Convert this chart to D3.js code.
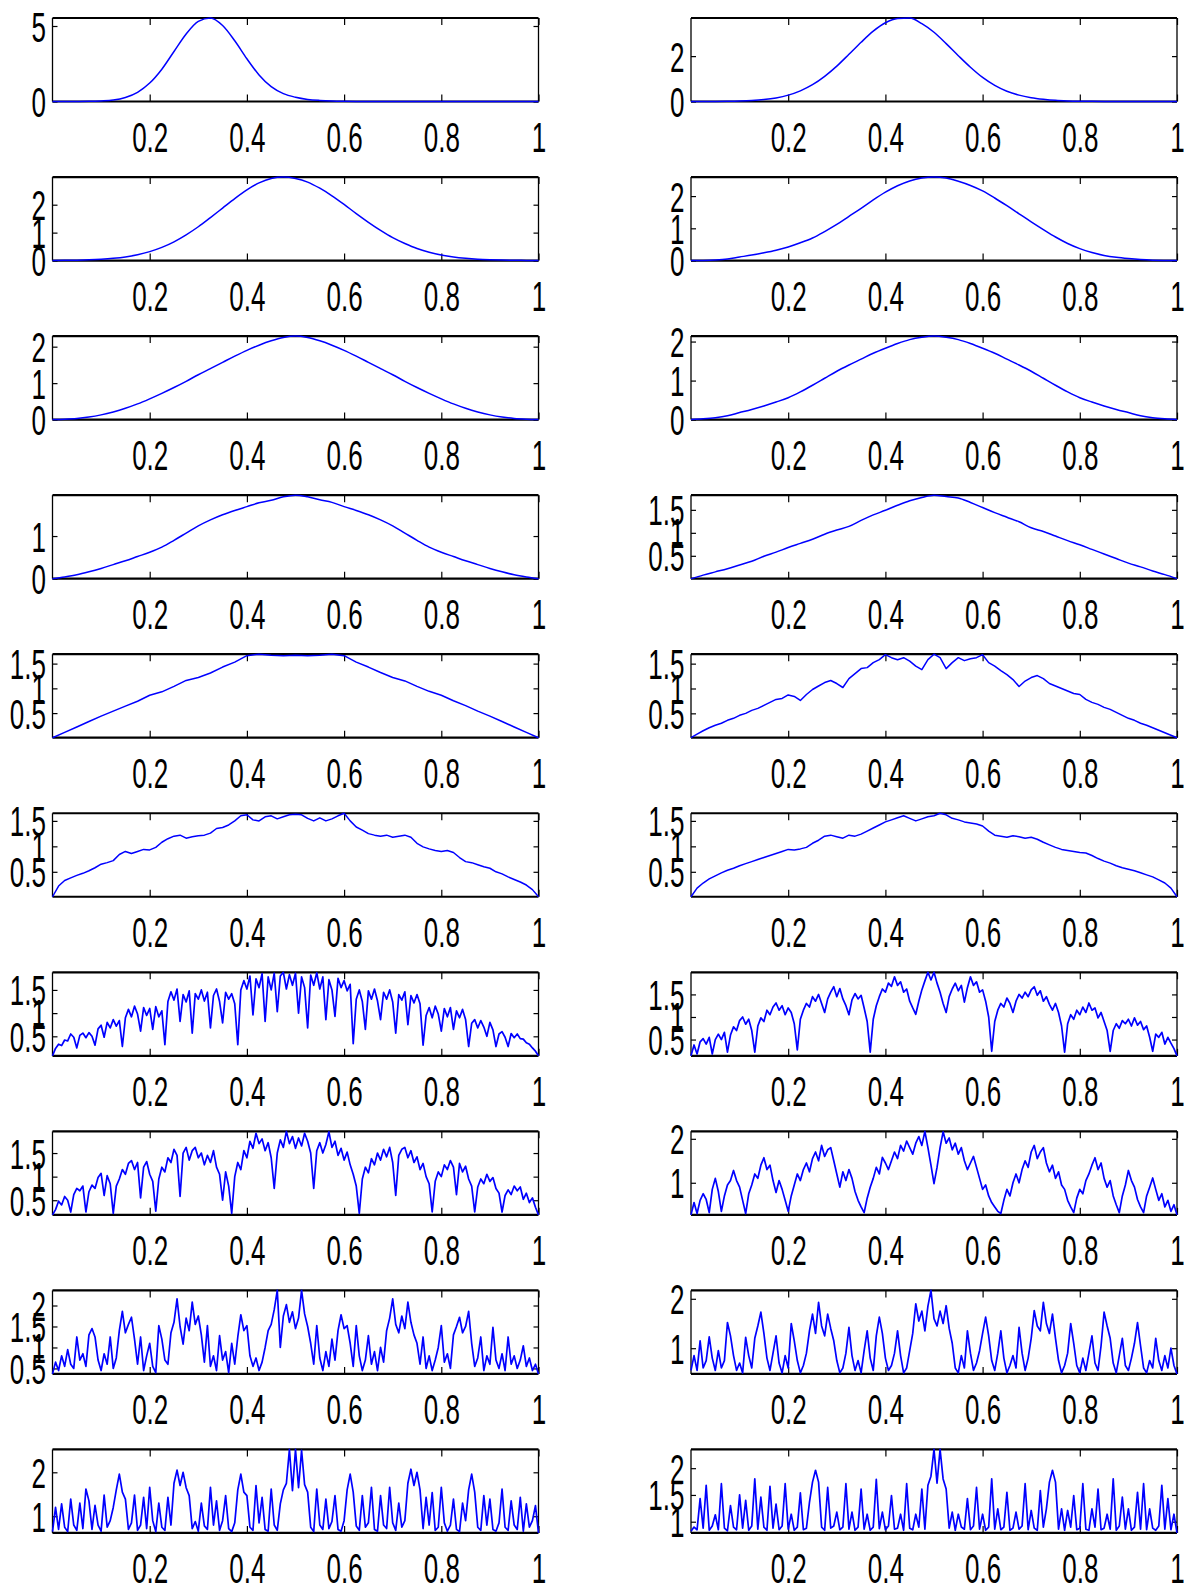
<!DOCTYPE html>
<html><head><meta charset="utf-8">
<script src="https://cdn.jsdelivr.net/npm/d3@7"></script>
<style>body{margin:0;background:#fff}</style>
</head><body>
<script>
// ---- data (x spans [0,1] evenly) ----
const xTickValues = [0.2, 0.4, 0.6, 0.8, 1];
const p01 = [0,0,0.003,0.01,0.04,0.10,0.27,0.61,1.22,2.14,3.31,4.47,5.30,5.53,5.03,4.02,2.83,1.76,0.98,0.52,0.28,0.14,0.07,0.03,0.012,0.004,0.001,0,0,0,0,0,0,0,0,0,0,0,0,0,0];
const p02 = [0,0.001,0.004,0.009,0.02,0.042,0.084,0.158,0.28,0.47,0.74,1.11,1.56,2.08,2.61,3.10,3.47,3.66,3.68,3.43,3.05,2.55,2.02,1.51,1.06,0.71,0.45,0.28,0.17,0.1,0.05,0.025,0.012,0.006,0.003,0.001,0,0,0,0,0];
const p03 = [0,0.007,0.014,0.026,0.047,0.08,0.13,0.21,0.32,0.47,0.67,0.92,1.21,1.54,1.88,2.22,2.53,2.78,2.94,2.99,2.94,2.81,2.59,2.32,2.01,1.68,1.37,1.08,0.82,0.61,0.43,0.30,0.20,0.13,0.083,0.05,0.03,0.017,0.009,0.005,0];
const p04 = [0,0.005,0.02,0.05,0.11,0.17,0.24,0.32,0.42,0.55,0.70,0.90,1.12,1.37,1.62,1.88,2.12,2.32,2.47,2.56,2.59,2.56,2.46,2.33,2.16,1.94,1.70,1.45,1.20,0.96,0.73,0.53,0.37,0.25,0.16,0.10,0.06,0.03,0.012,0.004,0];
const p05 = [0,0.01,0.03,0.07,0.13,0.21,0.31,0.43,0.57,0.72,0.88,1.05,1.23,1.40,1.57,1.74,1.90,2.04,2.16,2.25,2.29,2.25,2.16,2.04,1.90,1.74,1.57,1.40,1.23,1.05,0.88,0.72,0.57,0.43,0.31,0.21,0.13,0.07,0.03,0.01,0];
const p06 = [0,0.02,0.05,0.10,0.18,0.26,0.35,0.45,0.56,0.71,0.88,1.06,1.24,1.40,1.55,1.70,1.83,1.95,2.05,2.11,2.14,2.11,2.05,1.95,1.83,1.70,1.55,1.40,1.24,1.06,0.88,0.71,0.56,0.45,0.35,0.26,0.18,0.10,0.05,0.02,0];
const p07 = [0,0.04,0.09,0.16,0.24,0.33,0.42,0.52,0.62,0.74,0.90,1.07,1.24,1.38,1.50,1.60,1.69,1.78,1.84,1.92,1.96,1.92,1.85,1.79,1.69,1.60,1.50,1.38,1.24,1.07,0.90,0.74,0.62,0.52,0.42,0.33,0.24,0.16,0.09,0.04,0];
const p08 = [0.003,0.08,0.15,0.22,0.30,0.38,0.49,0.58,0.68,0.77,0.86,0.97,1.06,1.14,1.27,1.39,1.49,1.60,1.70,1.77,1.82,1.79,1.76,1.66,1.55,1.44,1.34,1.24,1.11,1.03,0.93,0.83,0.74,0.64,0.54,0.44,0.34,0.26,0.17,0.09,0.003];
const p09 = [0.003,0.11,0.22,0.33,0.44,0.54,0.64,0.74,0.86,0.93,1.04,1.16,1.22,1.31,1.43,1.53,1.66,1.69,1.67,1.66,1.67,1.66,1.67,1.69,1.66,1.53,1.43,1.32,1.22,1.15,1.04,0.94,0.86,0.75,0.65,0.54,0.44,0.33,0.22,0.11,0.003];
const p10 = [0.01,0.08,0.15,0.21,0.26,0.30,0.36,0.40,0.46,0.50,0.56,0.60,0.66,0.72,0.78,0.80,0.87,0.84,0.76,0.88,0.98,1.05,1.12,1.16,1.10,1.02,1.20,1.30,1.40,1.42,1.52,1.58,1.68,1.62,1.58,1.62,1.55,1.45,1.38,1.58,1.69,1.62,1.40,1.52,1.62,1.56,1.60,1.62,1.68,1.52,1.45,1.36,1.28,1.18,1.04,1.15,1.22,1.26,1.20,1.10,1.05,1.00,0.95,0.90,0.88,0.78,0.72,0.68,0.62,0.58,0.52,0.46,0.40,0.36,0.30,0.26,0.21,0.16,0.11,0.06,0.01];
const p11 = [0.01,0.22,0.33,0.38,0.43,0.47,0.52,0.58,0.65,0.68,0.72,0.84,0.90,0.86,0.90,0.94,0.93,0.98,1.08,1.15,1.20,1.22,1.16,1.19,1.21,1.22,1.26,1.35,1.37,1.42,1.50,1.60,1.62,1.52,1.50,1.58,1.60,1.54,1.58,1.62,1.63,1.62,1.55,1.50,1.56,1.50,1.54,1.60,1.65,1.50,1.38,1.32,1.25,1.22,1.20,1.22,1.18,1.20,1.22,1.18,1.06,0.99,0.95,0.92,0.90,0.92,0.88,0.78,0.70,0.68,0.64,0.60,0.57,0.50,0.46,0.40,0.35,0.30,0.24,0.15,0.01];
const p12 = [0.01,0.18,0.28,0.36,0.42,0.48,0.53,0.57,0.62,0.66,0.70,0.74,0.78,0.82,0.86,0.90,0.94,0.93,0.95,0.98,1.06,1.12,1.20,1.22,1.19,1.16,1.22,1.20,1.24,1.30,1.36,1.42,1.48,1.52,1.56,1.60,1.55,1.50,1.54,1.58,1.60,1.65,1.62,1.55,1.52,1.48,1.46,1.44,1.40,1.30,1.22,1.20,1.18,1.21,1.19,1.16,1.18,1.14,1.08,1.03,0.98,0.94,0.92,0.90,0.88,0.87,0.82,0.76,0.71,0.67,0.62,0.58,0.55,0.52,0.48,0.44,0.40,0.34,0.28,0.18,0.01];
const p13 = [0.08,0.24,0.33,0.30,0.42,0.40,0.55,0.48,0.25,0.52,0.57,0.47,0.58,0.50,0.31,0.66,0.74,0.48,0.80,0.68,0.86,0.72,0.84,0.28,0.90,1.08,0.92,1.15,0.98,0.61,1.12,0.95,1.10,0.65,1.14,0.92,1.05,0.32,1.25,1.46,1.28,1.52,0.82,1.40,1.24,1.48,0.57,1.42,1.30,1.50,1.26,1.45,0.68,1.38,1.52,1.25,0.79,1.45,1.30,1.42,1.20,0.32,1.50,1.70,1.52,1.80,0.96,1.74,1.55,1.85,0.82,1.78,1.50,1.86,1.03,1.80,1.88,1.52,1.83,1.60,1.86,1.00,1.78,1.55,0.68,1.82,1.60,1.87,1.52,1.78,0.86,1.72,1.50,0.93,1.75,1.55,1.70,1.48,1.62,0.34,1.30,1.50,1.25,0.65,1.48,1.30,1.52,1.26,0.86,1.45,1.30,1.50,1.24,0.57,1.40,1.28,1.46,0.75,1.38,1.22,1.40,1.20,0.31,0.95,1.12,0.90,1.15,0.98,0.61,1.10,0.92,1.12,0.65,1.05,0.90,1.08,0.86,0.28,0.78,0.86,0.68,0.84,0.70,0.50,0.80,0.64,0.28,0.55,0.60,0.48,0.28,0.56,0.47,0.55,0.45,0.44,0.36,0.33,0.25,0.18,0.08];
const p14 = [0.14,0.38,0.18,0.45,0.52,0.40,0.55,0.18,0.50,0.62,0.50,0.66,0.22,0.60,0.78,0.70,0.92,1.00,0.84,0.95,0.70,0.22,0.80,0.98,0.90,1.15,1.05,1.22,1.31,1.15,1.25,1.05,1.20,1.10,0.85,0.27,0.95,1.15,1.30,1.22,1.45,1.35,1.50,1.30,1.10,1.40,1.55,1.67,1.45,1.63,1.40,1.25,1.05,1.38,1.52,1.40,1.48,1.20,0.90,0.22,0.95,1.25,1.45,1.62,1.55,1.75,1.68,1.89,1.70,1.78,1.55,1.62,1.35,1.20,1.06,1.35,1.60,1.80,1.99,1.82,1.99,1.75,1.55,1.30,1.10,1.45,1.62,1.75,1.58,1.70,1.33,1.65,1.89,1.70,1.78,1.55,1.60,1.35,1.00,0.24,0.90,1.15,1.30,1.22,1.42,1.30,1.10,1.35,1.50,1.42,1.55,1.45,1.60,1.67,1.48,1.58,1.35,1.45,1.28,1.15,1.30,1.10,0.80,0.22,0.85,1.05,0.95,1.15,1.05,1.22,1.10,1.31,1.15,1.20,0.98,1.10,0.90,0.70,0.24,0.70,0.85,0.75,0.92,0.85,0.95,0.80,0.98,0.82,0.90,0.72,0.80,0.55,0.24,0.62,0.55,0.66,0.40,0.55,0.42,0.30,0.14];
const p15 = [0.19,0.30,0.48,0.40,0.58,0.50,0.25,0.62,0.75,0.70,0.80,0.25,0.68,0.82,0.75,0.98,1.07,0.60,1.02,0.85,0.22,0.80,0.95,1.15,1.05,1.28,1.34,1.15,1.30,0.55,1.20,1.32,1.05,0.90,0.27,0.95,1.20,1.10,1.40,1.30,1.58,1.45,0.58,1.50,1.62,1.35,1.55,1.62,1.40,1.50,1.25,1.45,1.30,1.55,1.20,1.05,0.50,1.10,0.80,0.22,1.00,1.30,1.15,1.55,1.40,1.75,1.60,1.92,1.70,1.80,1.55,1.72,1.40,0.75,1.50,1.78,1.62,1.96,1.70,1.85,1.60,1.82,1.65,1.92,1.75,1.50,0.75,1.55,1.72,1.50,1.68,1.95,1.62,1.75,1.45,1.60,1.35,1.52,1.25,1.05,0.80,0.22,0.95,1.20,1.08,1.38,1.25,1.50,1.35,1.58,1.42,1.62,1.30,0.60,1.45,1.58,1.62,1.40,1.55,1.30,1.42,1.15,1.28,1.00,0.85,0.25,0.90,1.10,1.00,1.25,1.15,1.34,1.20,0.62,1.28,1.10,1.22,0.95,0.80,0.25,0.78,0.95,0.85,1.05,0.90,0.98,0.75,0.65,0.25,0.60,0.72,0.62,0.80,0.70,0.78,0.52,0.65,0.45,0.55,0.35,0.19];
const p16 = [0.27,0.55,0.30,0.60,0.75,0.62,0.32,0.85,1.10,0.80,0.35,0.70,0.95,1.05,1.28,1.05,0.90,0.60,0.30,0.75,0.95,1.20,1.10,1.40,1.57,1.30,1.40,1.05,0.78,1.05,0.85,0.60,0.35,0.70,0.95,1.20,1.05,1.30,1.45,1.25,1.55,1.70,1.50,1.85,1.60,1.75,1.80,1.50,1.20,0.90,1.25,1.05,1.30,1.10,0.80,0.60,0.45,0.32,0.65,0.90,1.10,1.35,1.20,1.58,1.45,1.30,1.50,1.70,1.55,1.85,1.72,1.95,1.80,1.65,1.90,2.05,1.85,2.17,1.80,1.40,0.98,1.35,1.80,2.16,1.90,2.02,1.75,1.90,1.65,1.80,1.50,1.30,1.45,1.60,1.35,1.10,0.85,0.95,0.70,0.55,0.45,0.35,0.30,0.60,0.85,0.70,1.00,1.20,1.00,1.30,1.50,1.35,1.70,1.85,1.55,1.70,1.80,1.45,1.25,1.40,1.10,1.25,0.95,0.85,0.60,0.45,0.32,0.65,0.85,0.75,1.05,1.20,1.40,1.57,1.30,1.45,1.10,0.90,1.05,0.70,0.50,0.32,0.70,0.95,1.28,1.05,0.90,0.62,0.45,0.32,0.70,0.90,1.11,0.85,0.60,0.75,0.45,0.60,0.35,0.50,0.27];
const p17 = [0.37,0.65,0.45,0.80,0.55,0.95,0.60,0.50,1.25,0.70,0.85,0.55,1.30,1.45,1.25,0.70,0.45,0.85,0.60,1.25,0.50,0.75,1.40,1.86,1.35,1.55,1.72,1.20,0.60,1.25,0.45,0.80,1.10,0.55,0.40,1.52,1.20,0.70,0.60,1.35,1.60,2.16,1.50,1.08,1.70,1.40,2.08,1.55,1.75,1.30,0.65,1.52,0.55,0.80,0.45,1.28,0.70,0.90,0.40,1.10,0.60,1.25,1.78,1.40,1.52,0.80,0.55,0.75,0.45,0.65,1.00,1.40,1.55,1.90,2.36,1.00,1.75,2.02,1.60,1.85,1.45,1.70,2.36,1.80,1.50,1.10,0.60,1.52,0.75,0.45,0.90,0.55,1.20,0.70,1.40,1.78,1.45,1.52,1.10,0.55,1.52,0.80,0.45,0.70,1.28,0.60,0.90,0.45,1.00,0.65,1.40,1.70,2.16,1.55,1.35,1.75,1.45,2.08,1.60,1.30,1.10,0.60,1.25,0.50,0.80,0.45,0.70,1.00,1.52,0.65,0.85,0.50,1.30,1.50,1.72,1.35,1.50,1.86,1.10,0.55,0.75,1.25,0.45,0.80,0.60,1.48,0.70,0.50,0.85,0.45,1.25,0.60,0.80,0.50,0.70,1.04,0.55,0.75,0.45,0.60,0.37];
const p18 = [0.55,0.85,0.55,1.15,0.60,0.75,1.23,0.80,0.55,0.95,0.60,0.75,1.52,1.25,0.85,0.55,0.70,0.50,1.22,0.85,0.60,1.20,1.45,1.73,1.30,0.80,0.55,0.90,1.25,0.70,0.50,0.85,0.60,1.50,1.15,0.75,0.50,0.65,0.90,1.35,1.69,1.30,1.93,1.45,1.25,1.69,1.40,1.15,0.75,0.50,0.60,0.90,1.42,0.85,0.55,0.75,0.50,0.95,1.35,0.80,0.55,1.25,1.63,1.30,0.80,0.55,0.65,0.90,1.35,0.85,0.50,0.60,0.95,1.30,1.90,1.55,1.75,1.35,1.85,2.17,1.60,1.45,1.75,1.50,1.86,1.40,1.10,0.60,0.50,0.85,0.60,1.35,0.90,0.55,0.70,0.95,1.30,1.63,1.25,0.75,0.55,0.90,1.35,0.80,0.50,0.65,0.85,0.60,1.42,0.90,0.55,0.80,1.20,1.76,1.45,1.35,1.93,1.50,1.30,1.69,1.20,0.75,0.50,0.65,0.90,1.50,1.10,0.65,0.50,0.80,0.55,0.90,1.25,0.70,0.55,1.05,1.73,1.45,1.20,0.70,0.50,0.85,1.20,0.65,0.55,0.80,1.10,1.52,1.05,0.60,0.50,0.75,0.60,1.20,0.75,0.55,0.85,0.60,1.00,0.65,0.48];
const p19 = [0.65,1.20,0.70,1.28,0.75,0.65,1.39,0.80,0.68,1.30,0.72,1.62,1.35,0.70,1.25,0.80,0.66,1.48,0.75,0.90,1.20,1.60,1.96,1.55,1.39,0.70,0.85,1.48,0.68,0.80,1.43,0.72,1.66,0.90,0.65,1.30,0.75,0.68,1.43,0.80,1.75,2.05,1.70,2.00,1.65,1.47,0.72,0.88,0.66,1.30,0.78,0.70,1.66,0.80,1.35,0.68,0.90,1.47,0.72,0.65,0.85,1.60,1.96,1.55,1.47,0.75,0.68,1.70,0.85,1.43,0.70,0.66,1.62,0.80,0.68,1.28,1.60,1.75,2.52,1.58,2.52,1.65,2.50,1.72,1.55,0.75,0.65,1.62,0.80,0.70,1.39,0.72,0.88,1.47,0.70,0.66,0.90,1.60,1.96,1.55,0.78,0.68,1.47,0.75,0.85,1.66,0.70,0.66,1.47,0.80,0.72,1.66,0.85,0.68,1.30,0.75,0.90,1.75,2.07,1.70,2.00,1.60,0.72,1.43,0.80,1.54,0.68,0.75,1.66,0.85,0.66,0.80,1.39,0.70,0.65,1.30,0.90,1.60,1.96,1.55,0.75,0.68,1.47,0.80,1.39,0.70,0.66,0.85,1.62,0.75,0.68,1.35,0.80,0.70,1.43,0.66,1.28,0.75,0.90,1.24,0.62];
const p20 = [0.82,0.90,0.85,1.43,0.88,1.68,0.84,0.92,1.13,0.85,1.71,0.88,0.83,1.30,0.90,0.85,1.50,0.88,1.40,0.84,0.92,1.80,0.86,1.46,0.90,0.84,1.66,0.88,1.33,0.85,0.92,1.71,0.86,1.14,0.84,0.90,1.54,0.85,0.88,1.36,1.74,1.96,1.74,0.90,0.84,1.64,0.88,0.92,1.18,0.85,0.90,1.71,0.86,1.18,0.84,0.90,1.61,0.86,1.14,0.84,0.90,1.79,0.87,1.18,0.85,0.92,1.49,0.86,0.88,1.14,0.84,1.71,0.88,0.85,1.14,0.90,1.61,0.86,1.68,1.85,2.35,1.72,2.35,1.80,1.61,0.88,1.18,0.84,1.14,0.90,0.86,1.43,0.85,0.92,1.64,0.86,1.14,0.84,0.90,1.80,0.86,1.24,0.85,0.90,1.55,0.84,0.88,1.18,0.86,0.92,1.71,0.85,1.21,0.88,0.84,1.58,0.90,1.24,1.74,1.96,1.74,0.86,1.24,0.84,1.21,0.90,1.49,0.85,0.88,1.71,0.86,0.84,1.24,0.90,1.61,0.85,0.88,1.14,0.86,1.80,0.84,0.92,1.46,0.86,1.24,0.84,0.90,1.55,0.86,1.71,0.85,1.24,0.88,0.84,0.92,1.68,0.86,1.43,0.85,1.14,0.79];

const yTick01 = [0,5], yTick02 = [0,2], yTick03 = [0,1,2], yTick04 = [0,1,2];
const yTick05 = [0,1,2], yTick06 = [0,1,2], yTick07 = [0,1], yTickHalf = [0.5,1,1.5];
const yTick16 = [1,2], yTick17 = [0.5,1,1.5,2], yTick18 = [1,2], yTick19 = [1,2], yTick20 = [1,1.5,2];

const series = [p01,p02,p03,p04,p05,p06,p07,p08,p09,p10,p11,p12,p13,p14,p15,p16,p17,p18,p19,p20];
const yTicks = [yTick01,yTick02,yTick03,yTick04,yTick05,yTick06,yTick07,yTickHalf,yTickHalf,yTickHalf,
                yTickHalf,yTickHalf,yTickHalf,yTickHalf,yTickHalf,yTick16,yTick17,yTick18,yTick19,yTick20];

// ---- layout ----
const W = 1184, H = 1591;
const colX = [52.5, 691], panelW = 486, panelH = 83.5, rowTop0 = 18, rowStep = 159.05;
const FONT = "'Liberation Sans', Arial, Helvetica, sans-serif";
const FS = 26, SY = 1.6;

const svg = d3.select("body").append("svg")
  .attr("width", W).attr("height", H)
  .style("background", "#fff");

function styleAxis(g, labelTransform, anchor) {
  g.select(".domain").remove();
  g.selectAll(".tick line").attr("stroke", "#000").attr("stroke-width", 1.2);
  g.attr("font-family", FONT).attr("font-size", FS);
  g.selectAll(".tick text")
    .attr("x", 0).attr("y", 0).attr("dy", null)
    .attr("fill", "#000")
    .attr("text-anchor", anchor)
    .attr("transform", labelTransform);
}

series.forEach((vals, k) => {
  const r = Math.floor(k / 2), c = k % 2;
  const x0 = colX[c], y0 = rowTop0 + r * rowStep;
  const x = d3.scaleLinear().domain([0, 1]).range([x0, x0 + panelW]);
  const y = d3.scaleLinear().domain(d3.extent(vals)).range([y0 + panelH, y0]);
  const idx = d3.scaleLinear().domain([0, vals.length - 1]).range([0, 1]);
  const g = svg.append("g");

  // frame
  g.append("line").attr("x1", x0).attr("x2", x0 + panelW).attr("y1", y0).attr("y2", y0)
    .attr("stroke", "#000").attr("stroke-width", 2.2);
  g.append("line").attr("x1", x0).attr("x2", x0 + panelW).attr("y1", y0 + panelH).attr("y2", y0 + panelH)
    .attr("stroke", "#000").attr("stroke-width", 2.2);
  g.append("line").attr("x1", x0).attr("x2", x0).attr("y1", y0).attr("y2", y0 + panelH)
    .attr("stroke", "#000").attr("stroke-width", 1.3);
  g.append("line").attr("x1", x0 + panelW).attr("x2", x0 + panelW).attr("y1", y0).attr("y2", y0 + panelH)
    .attr("stroke", "#000").attr("stroke-width", 1.3);

  // axes
  g.append("g").attr("transform", `translate(0,${y0 + panelH})`)
    .call(d3.axisBottom(x).tickValues(xTickValues).tickSize(-7).tickFormat(d => String(d)))
    .call(a => styleAxis(a, `translate(0,50.5) scale(1,${SY})`, "middle"));
  g.append("g").attr("transform", `translate(0,${y0})`)
    .call(d3.axisTop(x).tickValues(xTickValues).tickSize(-7).tickFormat(""))
    .call(a => styleAxis(a, null, "middle"));
  g.append("g").attr("transform", `translate(${x0},0)`)
    .call(d3.axisLeft(y).tickValues(yTicks[k]).tickSize(-5).tickFormat(d => String(d)))
    .call(a => styleAxis(a, `translate(-6.5,15) scale(1,${SY})`, "end"));
  g.append("g").attr("transform", `translate(${x0 + panelW},0)`)
    .call(d3.axisRight(y).tickValues(yTicks[k]).tickSize(-5).tickFormat(""))
    .call(a => styleAxis(a, null, "start"));

  const line = d3.line()
    .x((d, i) => x(idx(i)))
    .y(d => y(d))
    .curve(k < 8 ? d3.curveMonotoneX : d3.curveLinear);
  g.append("path").datum(vals).attr("d", line)
    .attr("fill", "none").attr("stroke", "#0000ff")
    .attr("stroke-width", k < 12 ? 1.5 : 1.7).attr("stroke-linejoin", "round");
});
</script>
</body></html>
